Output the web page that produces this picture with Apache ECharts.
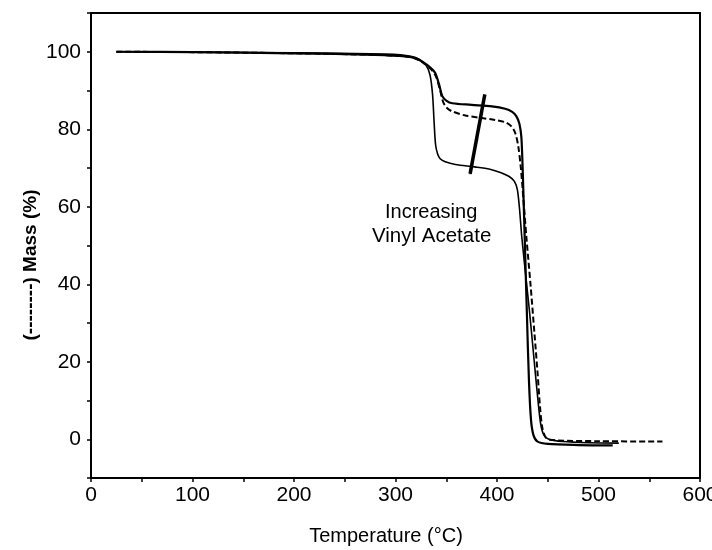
<!DOCTYPE html>
<html>
<head>
<meta charset="utf-8">
<script src="https://cdn.jsdelivr.net/npm/echarts@6/dist/echarts.min.js"></script>
<style>
  html, body { margin: 0; padding: 0; background: #fff; }
  #chart { width: 712px; height: 550px; }
</style>
</head>
<body>
<div id="chart"></div>
<script>
// TGA mass-loss curves (temperature in °C, mass in %)
const xTicks = [0, 100, 200, 300, 400, 500, 600];
const yTicks = [0, 20, 40, 60, 80, 100];
const xTitle = 'Temperature (°C)';
const yTitle = '(--------) Mass (%)';

// highest vinyl acetate content: upper plateau, solid
const curveHigh = [
  [25, 100], [100, 99.9], [200, 99.6], [280, 99.2], [310, 98.8], [320, 98.3],
  [328, 97.2], [334, 96], [339, 94.6], [343, 91.5], [346, 88.6], [350, 87.4],
  [356, 86.7], [375, 86.3], [395, 85.9], [408, 85.3], [415, 84.5], [419, 83.4],
  [422, 81.5], [424, 78], [425.5, 68], [427.5, 50], [429.5, 32], [431.5, 15],
  [433.5, 5], [436, 1], [440, -0.6], [450, -1.2], [480, -1.5], [514, -1.6]
];

// intermediate content: dashed
const curveMid = [
  [25, 100], [100, 99.9], [200, 99.6], [280, 99.2], [310, 98.8], [320, 98.2],
  [328, 97], [335, 95.5], [340, 93.5], [344, 90], [347, 87], [351, 85.4],
  [356, 84.6], [368, 83.6], [382, 83], [398, 82.4], [408, 81.8], [414, 80.8],
  [418, 79], [421, 75.5], [423.5, 70], [426, 62], [429, 52], [433, 40],
  [437, 27], [440, 17], [442.5, 8], [445, 2.5], [449, 0.2], [460, -0.3],
  [500, -0.5], [563, -0.6]
];

// lowest content: lower plateau, thin solid
const curveLow = [
  [25, 100], [100, 99.9], [200, 99.7], [290, 99.4], [305, 99.2], [315, 98.8],
  [323, 98.1], [330, 96.6], [334, 94], [336.5, 89], [338, 82], [339.5, 76],
  [341.5, 73.6], [344, 72.4], [349, 71.6], [359, 70.9], [378, 70.3], [393, 69.7],
  [404, 68.8], [412, 67.8], [417, 66.6], [420, 64.5], [422, 60], [424.5, 52],
  [428, 43], [432, 33], [436, 22], [440, 11], [443, 4], [446, 1.2], [451, 0],
  [465, -0.6], [490, -0.9], [520, -1]
];

// arrow showing the direction of increasing vinyl acetate
const arrowFrom = [388, 89];
const arrowTo = [373.5, 68.5];

const font = 'Liberation Sans, Arial, Helvetica, sans-serif';
const ink = '#000';

const chart = echarts.init(document.getElementById('chart'), null, { renderer: 'canvas' });

chart.setOption({
  animation: false,
  backgroundColor: '#fff',
  grid: {
    left: 91, right: 12, top: 13, bottom: 72,
    outerBoundsMode: 'none', containLabel: false,
    show: true, borderColor: ink, borderWidth: 2, backgroundColor: 'transparent'
  },
  xAxis: {
    type: 'value', min: 0, max: 600, interval: 50,
    axisLine: { show: true, onZero: false, lineStyle: { color: ink, width: 2 } },
    axisTick: { show: true, length: 4, lineStyle: { color: ink, width: 1.5 } },
    axisLabel: {
      fontFamily: font, fontSize: 21, color: ink, margin: 7,
      formatter: v => (xTicks.includes(v) ? String(v) : '')
    },
    splitLine: { show: false }
  },
  yAxis: {
    type: 'value', min: -10, max: 110, interval: 10,
    axisLine: { show: true, onZero: false, lineStyle: { color: ink, width: 2 } },
    axisTick: { show: true, length: 4, lineStyle: { color: ink, width: 1.5 } },
    axisLabel: {
      fontFamily: font, fontSize: 21, color: ink, margin: 10,
      formatter: v => (yTicks.includes(v) ? String(v) : '')
    },
    splitLine: { show: false }
  },
  series: [
    {
      type: 'line', data: curveHigh, showSymbol: false, smooth: 0.3,
      lineStyle: { color: ink, width: 2.2 }, z: 3
    },
    {
      type: 'line', data: curveMid, showSymbol: false, smooth: 0.3,
      lineStyle: { color: ink, width: 2, type: [6, 3] }, z: 2
    },
    {
      type: 'line', data: curveLow, showSymbol: false, smooth: 0.3,
      lineStyle: { color: ink, width: 1.6 }, z: 2,
      markLine: {
        silent: true,
        symbol: ['none', 'circle'], symbolSize: [1, 9],
        label: { show: false },
        itemStyle: { color: ink },
        lineStyle: { color: ink, width: 3.5, type: 'solid' },
        data: [[{ coord: arrowFrom }, { coord: arrowTo }]]
      }
    }
  ],
  graphic: [
    {
      type: 'text', left: 385, top: 202,
      style: { text: 'Increasing', font: '20px ' + font, fill: ink }
    },
    {
      type: 'text', left: 372, top: 226,
      style: { text: 'Vinyl Acetate', font: '20.5px ' + font, fill: ink }
    },
    {
      type: 'text', x: 386, y: 536,
      style: {
        text: xTitle, font: '20px ' + font, fill: ink,
        align: 'center', verticalAlign: 'middle'
      }
    },
    {
      type: 'text', x: 31, y: 265, rotation: Math.PI / 2,
      style: {
        text: yTitle, font: 'bold 19px ' + font, fill: ink,
        align: 'center', verticalAlign: 'middle'
      }
    }
  ]
});
</script>
</body>
</html>
